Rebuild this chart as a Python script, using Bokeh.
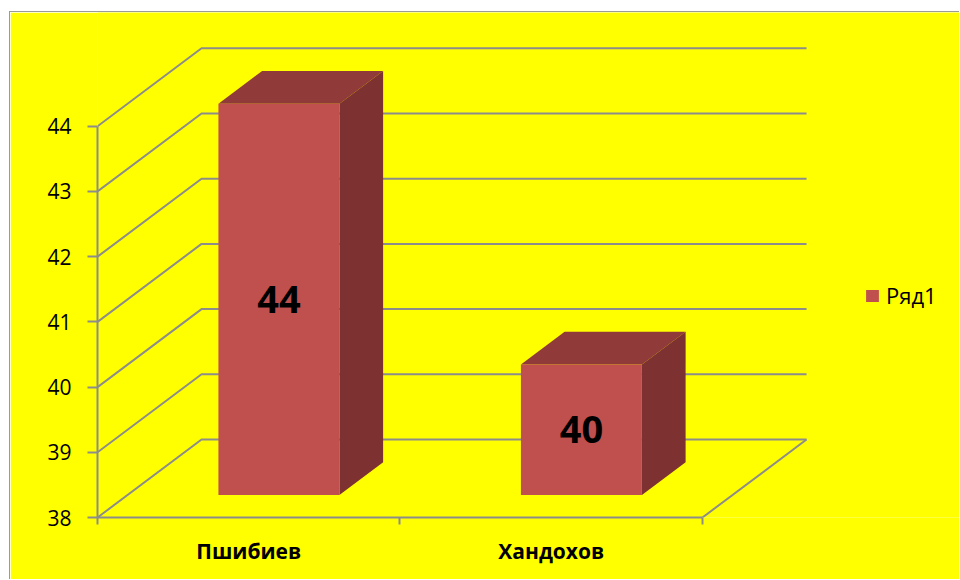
from bokeh.plotting import figure
from bokeh.models import FixedTicker, Range1d, Legend, LegendItem
from bokeh.embed import file_html
from bokeh.resources import INLINE
from bokeh.core.properties import value

# ---- data ----
categories = ["Пшибиев", "Хандохов"]
values = [44, 40]
y_ticks = [38, 39, 40, 41, 42, 43, 44]
series_name = "Ряд1"

# ---- style / projection parameters ----
Y_MIN = y_ticks[0]
DX, DY = 0.344, 1.196      # full depth offset, in data units
Z0, Z1 = 0.29, 0.71        # bar depth span (fraction of full depth)
HALF = 0.2                 # half bar width, in category units
GRID = "#8C8C8C"
FRONT, TOP, SIDE = "#C0504D", "#903A3A", "#7E3131"
BG = "#FFFF00"
FONT = "Open Sans"

def proj(x, y, z):
    return x + z * DX, y + z * DY

n = len(categories)

p = figure(width=950, height=568,
           x_range=Range1d(0, 2.853), y_range=Range1d(38, 45.745),
           output_backend="svg", toolbar_location=None,
           min_border_left=87, min_border_right=0,
           min_border_top=0, min_border_bottom=63)
p.styles = {"border-top": "1px solid #9A9A9A", "border-left": "1px solid #9A9A9A",
            "margin-left": "9px", "margin-top": "11px"}
p.background_fill_color = BG
p.border_fill_color = BG
p.outline_line_color = None
p.grid.visible = False

# walls: gridlines on side wall and back wall
gx, gy = [], []
for v in y_ticks:
    a = proj(0, v, 0)
    b = proj(0, v, 1)
    c = proj(n, v, 1)
    gx.append([a[0], b[0], c[0]])
    gy.append([a[1], b[1], c[1]])
a = proj(n, Y_MIN, 0)
b = proj(n, Y_MIN, 1)
gx.append([a[0], b[0]])
gy.append([a[1], b[1]])
p.multi_line(gx, gy, line_color=GRID, line_width=2)

# bars
fl, fr, ft, fb = [], [], [], []
txs, tys, sxs, sys_ = [], [], [], []
lx, ly, lt = [], [], []
for i, v in enumerate(values):
    cx = i + 0.5
    xl, xr = cx - HALF, cx + HALF
    p0 = proj(xl, Y_MIN, Z0)
    p1 = proj(xr, v, Z0)
    fl.append(p0[0]); fr.append(p1[0]); fb.append(p0[1]); ft.append(p1[1])
    top = [proj(xl, v, Z0), proj(xr, v, Z0), proj(xr, v, Z1), proj(xl, v, Z1)]
    txs.append([q[0] for q in top]); tys.append([q[1] for q in top])
    side = [proj(xr, v, Z0), proj(xr, v, Z1), proj(xr, Y_MIN, Z1), proj(xr, Y_MIN, Z0)]
    sxs.append([q[0] for q in side]); sys_.append([q[1] for q in side])
    lx.append((p0[0] + p1[0]) / 2); ly.append((p0[1] + p1[1]) / 2); lt.append(str(v))

p.patches(txs, tys, fill_color=TOP, line_color=None)
p.patches(sxs, sys_, fill_color=SIDE, line_color=None)
front = p.quad(left=fl, right=fr, top=ft, bottom=fb, fill_color=FRONT, line_color=None)
p.text(lx, ly, text=lt, text_align="center", text_baseline="middle",
       text_font=value(FONT), text_font_style="bold", text_font_size="38px",
       text_color="black")

# axes
p.yaxis.bounds = (y_ticks[0], y_ticks[-1])
p.yaxis.ticker = FixedTicker(ticks=y_ticks, minor_ticks=[])
p.yaxis.axis_line_color = GRID
p.yaxis.axis_line_width = 2
p.yaxis.major_tick_line_color = GRID
p.yaxis.major_tick_line_width = 2
p.yaxis.major_tick_out = 10
p.yaxis.major_tick_in = 0
p.yaxis.major_label_text_font = FONT
p.yaxis.major_label_text_font_size = "21px"
p.yaxis.major_label_text_color = "black"
p.yaxis.major_label_standoff = 16

centers = [i + 0.5 for i in range(n)]
p.xaxis.bounds = (0, n)
p.xaxis.ticker = FixedTicker(ticks=centers, minor_ticks=list(range(n + 1)))
p.xaxis.major_label_overrides = {c: lab for c, lab in zip(centers, categories)}
p.xaxis.axis_line_color = GRID
p.xaxis.axis_line_width = 2
p.xaxis.major_tick_out = 0
p.xaxis.major_tick_in = 0
p.xaxis.minor_tick_line_color = GRID
p.xaxis.minor_tick_line_width = 2
p.xaxis.minor_tick_out = 7
p.xaxis.minor_tick_in = 0
p.xaxis.major_label_text_font = FONT
p.xaxis.major_label_text_font_style = "bold"
p.xaxis.major_label_text_font_size = "21px"
p.xaxis.major_label_text_color = "black"
p.xaxis.major_label_standoff = 12

legend = Legend(items=[LegendItem(label=series_name, renderers=[front])],
                location=(767, 207), padding=0, margin=0,
                glyph_width=16, glyph_height=15, label_standoff=6,
                label_text_font=FONT, label_text_font_size="22px",
                label_text_color="black",
                background_fill_alpha=0, border_line_color=None)
p.add_layout(legend)

open("out.html", "w").write(file_html(p, INLINE))
